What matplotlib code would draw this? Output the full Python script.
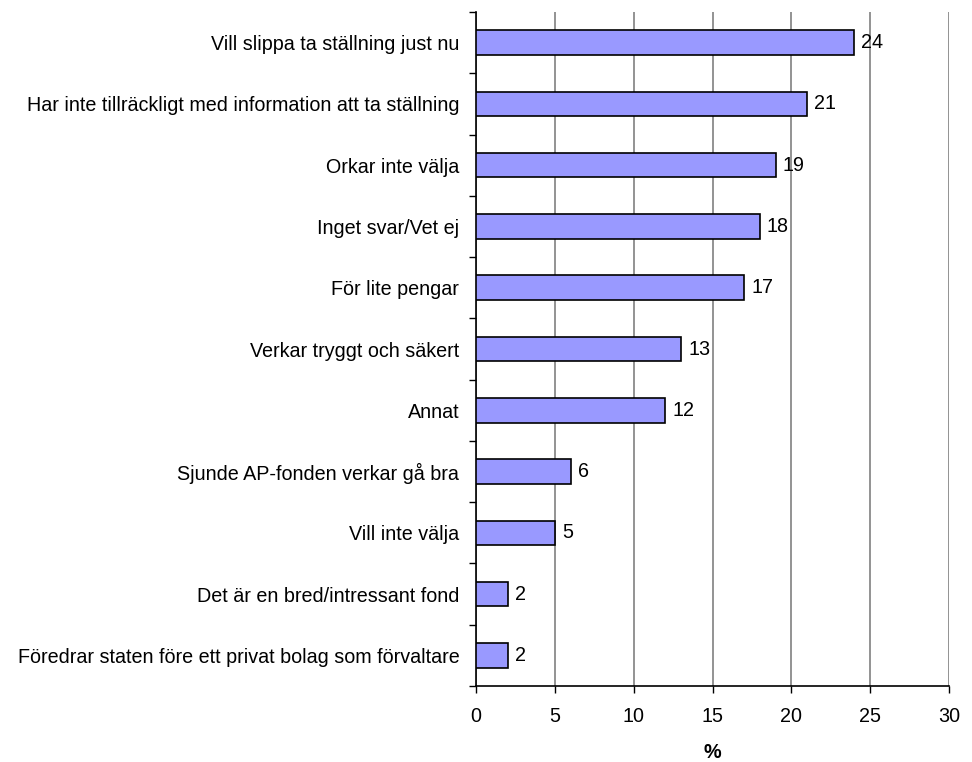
import matplotlib
matplotlib.use("Agg")
import matplotlib.pyplot as plt

categories = [
    "Vill slippa ta ställning just nu",
    "Har inte tillräckligt med information att ta ställning",
    "Orkar inte välja",
    "Inget svar/Vet ej",
    "För lite pengar",
    "Verkar tryggt och säkert",
    "Annat",
    "Sjunde AP-fonden verkar gå bra",
    "Vill inte välja",
    "Det är en bred/intressant fond",
    "Föredrar staten före ett privat bolag som förvaltare",
]
values = [24, 21, 19, 18, 17, 13, 12, 6, 5, 2, 2]
xticks = [0, 5, 10, 15, 20, 25, 30]

plt.rcParams["font.family"] = ["Liberation Sans", "DejaVu Sans"]
FS = 14.2

fig = plt.figure(figsize=(9.72, 7.62), dpi=100)
ax = fig.add_axes([476 / 972, 1 - 686 / 762, (949 - 476) / 972, (686 - 12) / 762])

n = len(categories)
ypos = list(range(n))[::-1]
ax.barh(ypos, values, height=0.4, color="#9999FF", edgecolor="black", linewidth=1.2, zorder=3)
for y, v in zip(ypos, values):
    ax.text(v + 0.45, y, f"{v}", va="center", ha="left", fontsize=FS, zorder=4)

ax.set_xlim(0, 30)
ax.set_ylim(-0.5, n - 0.5)
ax.set_xticks(xticks)
ax.set_xticklabels([str(t) for t in xticks], fontsize=FS)
ax.set_yticks(ypos)
ax.set_yticklabels(categories, fontsize=FS)
ax.tick_params(axis="y", length=0, pad=12)
ax.set_yticks([i - 0.5 for i in range(n + 1)], minor=True)
ax.tick_params(axis="y", which="minor", length=5, width=1, direction="out")
ax.tick_params(axis="x", length=5, width=1, direction="out", pad=10)

ax.xaxis.grid(True, color="#808080", linewidth=1.2, zorder=0)
ax.set_axisbelow(True)
for s in ("top", "right"):
    ax.spines[s].set_visible(False)
ax.spines["left"].set_linewidth(1.2)
ax.spines["bottom"].set_linewidth(1.2)

ax.set_xlabel("%", fontsize=FS, fontweight="bold", labelpad=12)

fig.savefig("out.png", dpi=100)
